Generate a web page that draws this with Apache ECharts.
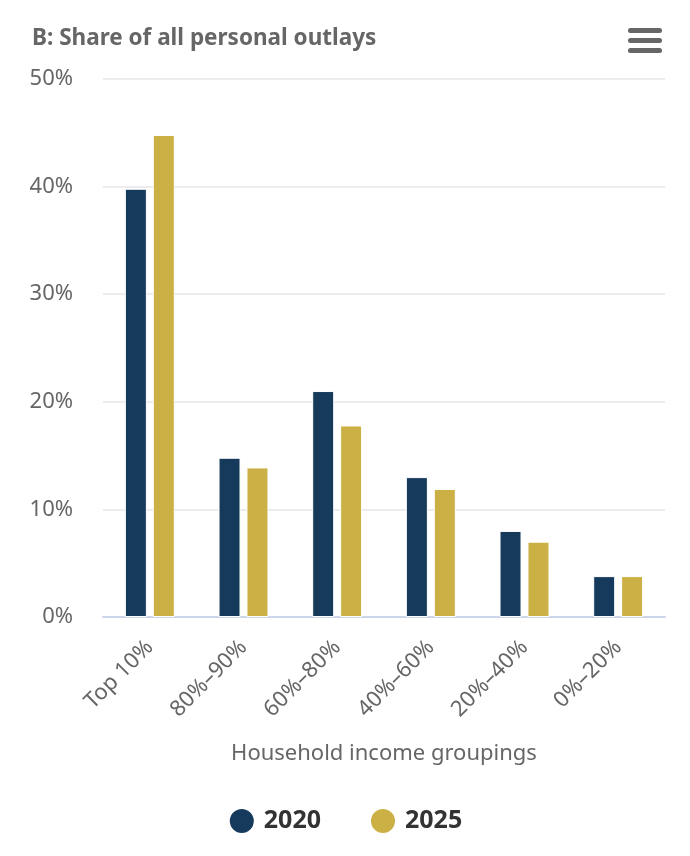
<!DOCTYPE html>
<html>
<head>
<meta charset="utf-8">
<script src="https://cdn.jsdelivr.net/npm/echarts@6/dist/echarts.min.js"></script>
<style>
  html, body { margin: 0; padding: 0; background: #fff; }
  #chart { width: 690px; height: 856px; }
</style>
</head>
<body>
<div id="chart"></div>
<script>
const categories = ['Top 10%', '80%–90%', '60%–80%', '40%–60%', '20%–40%', '0%–20%']
const values2020 = [39.8, 14.8, 21, 13, 8, 3.8]
const values2025 = [44.8, 13.9, 17.8, 11.9, 7, 3.8]
const seriesNames = ['2020', '2025']

const font = '"Noto Sans", Lato, sans-serif'
const chart = echarts.init(document.getElementById('chart'))

const option = {
  backgroundColor: '#fff',
  textStyle: { fontFamily: font },
  title: {
    text: 'B: Share of all personal outlays',
    left: 27,
    top: 22,
    textStyle: { fontFamily: font, fontSize: 22.5, fontWeight: 'bold', color: '#666' }
  },
  graphic: [{
    type: 'group',
    right: 28,
    top: 28,
    children: [0, 10, 20].map(y => ({
      type: 'rect',
      shape: { x: 0, y: y, width: 34, height: 5, r: 2.5 },
      style: { fill: '#666' }
    }))
  }],
  legend: {
    bottom: 16,
    left: 'center',
    icon: 'circle',
    itemWidth: 26,
    itemHeight: 26,
    itemGap: 48,
    textStyle: { fontFamily: font, fontSize: 25, fontWeight: 'bold', color: '#333', padding: [0, 0, 0, 4] },
    data: seriesNames
  },
  grid: { left: 103, right: 25, top: 79, bottom: 239 },
  xAxis: {
    type: 'category',
    data: categories,
    name: 'Household income groupings',
    nameLocation: 'middle',
    nameGap: 126,
    nameTextStyle: { fontFamily: font, fontSize: 22, color: '#666' },
    axisLine: { lineStyle: { color: '#ccd6eb', width: 2 } },
    axisTick: { show: false },
    axisLabel: { rotate: 45, fontSize: 22, color: '#666', margin: 27, fontFamily: font }
  },
  yAxis: {
    type: 'value',
    min: 0,
    max: 50,
    interval: 10,
    axisLabel: { formatter: '{value}%', fontSize: 22, color: '#666', margin: 30, fontFamily: font },
    splitLine: { lineStyle: { color: '#e6e6e6', width: 1.5 } },
    axisLine: { show: false },
    axisTick: { show: false }
  },
  series: [
    {
      name: seriesNames[0],
      type: 'bar',
      data: values2020,
      barWidth: 22,
      barGap: '27%',
      itemStyle: { color: '#163a5b', borderColor: '#fff', borderWidth: 1 }
    },
    {
      name: seriesNames[1],
      type: 'bar',
      data: values2025,
      barWidth: 22,
      itemStyle: { color: '#cbb045', borderColor: '#fff', borderWidth: 1 }
    }
  ]
}

chart.setOption(option)
</script>
</body>
</html>
